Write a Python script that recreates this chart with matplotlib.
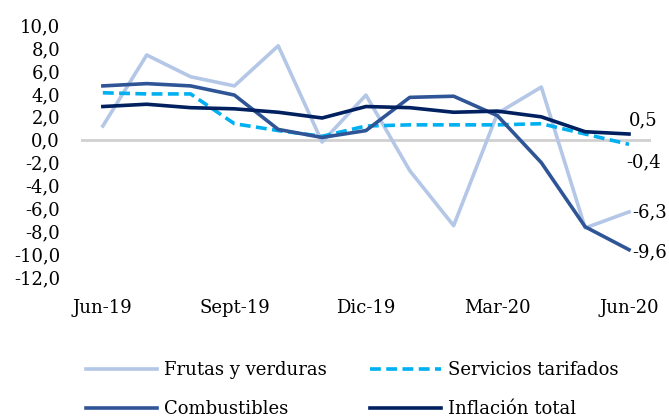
import matplotlib
matplotlib.use("Agg")
import matplotlib.pyplot as plt

months = ["Jun-19", "Jul-19", "Ago-19", "Sept-19", "Oct-19", "Nov-19", "Dic-19",
          "Ene-20", "Feb-20", "Mar-20", "Abr-20", "May-20", "Jun-20"]
frutas = [1.2, 7.4, 5.5, 4.7, 8.2, -0.2, 3.9, -2.7, -7.5, 2.3, 4.6, -7.7, -6.3]
servicios = [4.1, 4.0, 4.0, 1.4, 0.8, 0.3, 1.2, 1.3, 1.3, 1.3, 1.4, 0.5, -0.4]
combustibles = [4.7, 4.9, 4.7, 3.9, 0.9, 0.2, 0.8, 3.7, 3.8, 2.1, -2.0, -7.6, -9.6]
inflacion = [2.9, 3.1, 2.8, 2.7, 2.4, 1.9, 2.9, 2.8, 2.4, 2.5, 2.0, 0.7, 0.5]
tick_idx = [0, 3, 6, 9, 12]
yticks = list(range(-12, 11, 2))

plt.rcParams['font.family'] = ['DejaVu Serif']
FS = 13

fig = plt.figure(figsize=(6.69, 4.2), dpi=100)
ax = fig.add_axes([0.121, 0.340, 0.852, 0.600])
x = list(range(len(months)))

ax.axhline(0, color='#D0D0D0', lw=2, zorder=1)
l1, = ax.plot(x, frutas, color='#B4C7E7', lw=2.6, label='Frutas y verduras', zorder=2)
l2, = ax.plot(x, servicios, color='#00B0F0', lw=2.6, ls=(0, (3, 1.5)), label='Servicios tarifados', zorder=3)
l3, = ax.plot(x, combustibles, color='#2F5597', lw=2.6, label='Combustibles', zorder=4)
l4, = ax.plot(x, inflacion, color='#002060', lw=2.6, label='Inflación total', zorder=5)

ax.set_xlim(-0.5, 12.5)
ax.set_ylim(-12, 10)
ax.set_yticks(yticks)
ax.set_yticklabels([f"{v:.1f}".replace('.', ',') for v in yticks], fontsize=FS)
ax.set_xticks(tick_idx)
ax.set_xticklabels([months[i] for i in tick_idx], fontsize=FS)
ax.tick_params(length=0, axis='both')
ax.tick_params(axis='x', pad=16)
ax.tick_params(axis='y', pad=15)
for s in ax.spines.values():
    s.set_visible(False)

def fmt(v):
    return f"{v:.1f}".replace('.', ',')

ax.annotate(fmt(inflacion[-1]), (12, inflacion[-1]), xytext=(0, 10), textcoords='offset points',
            fontsize=FS, ha='left', va='center')
ax.annotate(fmt(servicios[-1]), (12, servicios[-1]), xytext=(-2, -13), textcoords='offset points',
            fontsize=FS, ha='left', va='center')
ax.annotate(fmt(frutas[-1]), (12, frutas[-1]), xytext=(2, 0), textcoords='offset points',
            fontsize=FS, ha='left', va='center')
ax.annotate(fmt(combustibles[-1]), (12, combustibles[-1]), xytext=(2, -2), textcoords='offset points',
            fontsize=FS, ha='left', va='center')

fig.legend(handles=[l1, l3, l2, l4], loc='lower left', bbox_to_anchor=(0.105, -0.034),
           ncol=2, frameon=False, fontsize=FS, handlelength=3.9, handletextpad=0.4,
           columnspacing=2.4, labelspacing=1.15)

fig.savefig('out.png', dpi=100)
